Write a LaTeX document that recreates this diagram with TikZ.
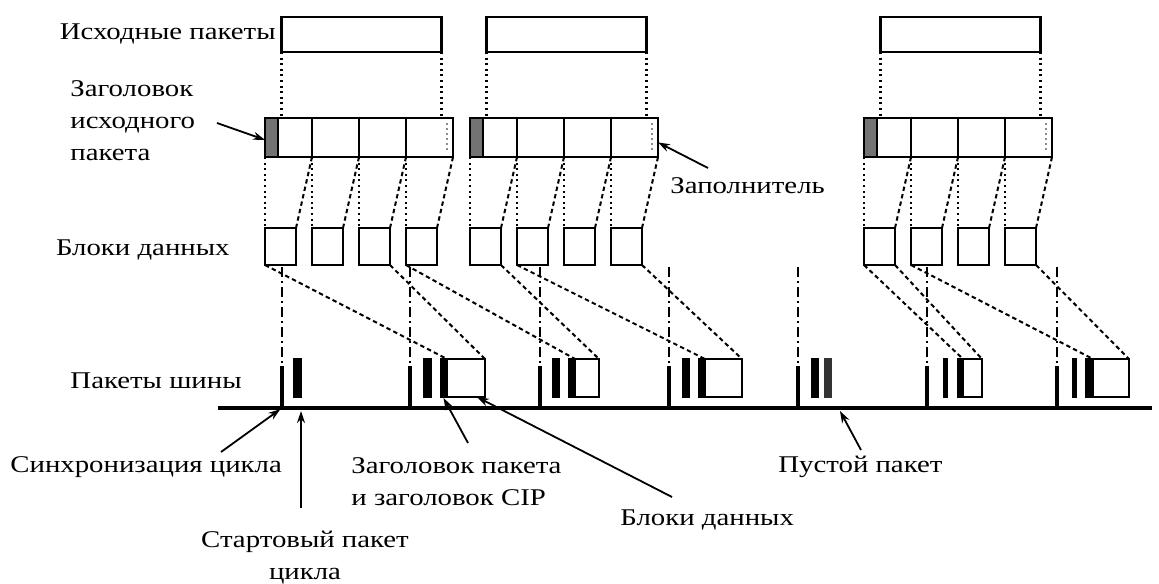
\documentclass[tikz,border=0pt]{standalone}
\usepackage{fontspec}
\setmainfont{Liberation Serif}[FakeStretch=1.2]
\usetikzlibrary{arrows.meta,positioning}
\tikzset{
  pacchetto/.style={draw,line width=1.4pt,minimum width=80pt,minimum height=17.5pt,inner sep=0pt,outer sep=0pt},
  riga/.style={draw,line width=1.3pt,minimum width=94pt,minimum height=19.5pt,inner sep=0pt,outer sep=0pt},
  testa/.style={draw,line width=1pt,fill=black!55,minimum width=6.5pt,minimum height=19.5pt,inner sep=0pt,outer sep=0pt},
  blocco/.style={draw,line width=1.2pt,minimum width=15.5pt,minimum height=18.5pt,inner sep=0pt,outer sep=0pt},
  barra/.style={fill=black,minimum height=20pt,minimum width=4pt,inner sep=0pt,outer sep=0pt},
  scatola/.style={draw,line width=1.2pt,minimum height=19pt,inner sep=0pt,outer sep=0pt},
  divisore/.style={line width=0.8pt},
  riempitivo/.style={black!45,line width=1pt,dash pattern=on 1pt off 1.5pt},
  punteggiata/.style={line width=1.1pt,dash pattern=on 1pt off 1.8pt},
  tratteggiata/.style={line width=1pt,dash pattern=on 2.2pt off 1.6pt},
  sincro/.style={line width=0.9pt,dash pattern=on 5pt off 2pt on 1pt off 2pt},
  sincrobase/.style={line width=1.6pt},
  bus/.style={line width=2pt},
  etichetta/.style={font=\fontsize{12}{16}\selectfont,inner sep=0pt},
  freccia/.style={line width=0.9pt,-{Stealth[length=6pt,width=4pt]}}
}

\begin{document}
\begin{tikzpicture}[x=0.5pt,y=-0.5pt]
\useasboundingbox (0,0) rectangle (1159,583);

% pacchetti sorgente, righe e blocchi dati
\foreach \g/\xr in {1/265,2/470,3/864}{
  \node[pacchetto] (src\g) at (\xr+96.5,34.5) {};
  \node[riga] (row\g) at (\xr+94,137.5) {};
  \foreach \i in {0,...,4} \coordinate (div\g-\i) at (\xr+47*\i,157);
  \foreach \i in {1,2,3} \draw[divisore] (div\g-\i |- row\g.north) -- (div\g-\i);
  \node[testa] (hd\g) at (\xr+6.5,137.5) {};
  \draw[riempitivo] ([xshift=-3pt,yshift=-2.5pt]row\g.north east) -- ([xshift=-3pt,yshift=2.5pt]row\g.south east);
  \draw[punteggiata] (src\g.south west) -- (src\g.south west |- row\g.north);
  \draw[punteggiata] (src\g.south east) -- (src\g.south east |- row\g.north);
  \foreach \i in {1,...,4}{
    \node[blocco] (blk\g-\i) at (\xr+47*\i-31.5,246.5) {};
    \draw[punteggiata] (blk\g-\i.north west |- row\g.south) -- (blk\g-\i.north west);
    \draw[tratteggiata] (div\g-\i) -- (blk\g-\i.north east);
  }
}

% linee di sincronizzazione del ciclo
\foreach \k/\x in {1/282,2/410,3/540,4/669,5/798,6/927,7/1057}{
  \coordinate (syt\k) at (\x,267);
  \coordinate (sy\k) at (\x,408);
  \draw[sincro] (syt\k) -- (\x,368);
  \draw[sincrobase] (\x,366) -- (sy\k);
}

% pacchetti di inizio ciclo
\foreach \k/\x/\w in {1/297.5/4.5,2/427.5/4.5,3/556/4,4/686/4,5/815/4,6/945.5/2.5,7/1074/2.5}
  \node[barra,minimum width=\w pt] (st\k) at (\x,378) {};

% pacchetti dati: intestazione + blocchi
\foreach \k/\xh/\wh/\xb/\wb in {2/443.5/3.5/466/19,3/571.5/3.5/587/12,4/701.5/3.5/723.5/18.5,6/960/3/972.5/9.5,7/1089/4/1111/18}{
  \node[barra,minimum width=\wh pt] (ph\k) at (\xh,378) {};
  \node[scatola,minimum width=\wb pt] (pb\k) at (\xb,378) {};
}
\node[barra,fill=black!80] (vuoto) at (828,378) {};

\coordinate (busL) at (218,408);
\coordinate (busR) at (1152,408);
\draw[bus] (busL) -- (busR);

% dai blocchi ai pacchetti del bus
\draw[tratteggiata] (blk1-1.south west) -- (pb2.north west);
\draw[tratteggiata] (blk1-3.south east) -- (pb2.north east);
\draw[tratteggiata] (blk1-4.south west) -- (pb3.north west);
\draw[tratteggiata] (blk2-1.south east) -- (pb3.north east);
\draw[tratteggiata] (blk2-2.south west) -- (pb4.north west);
\draw[tratteggiata] (blk2-4.south east) -- (pb4.north east);
\draw[tratteggiata] (blk3-1.south west) -- (pb6.north west);
\draw[tratteggiata] (blk3-1.south east) -- (pb6.north east);
\draw[tratteggiata] (blk3-2.south west) -- (pb7.north west);
\draw[tratteggiata] (blk3-4.south east) -- (pb7.north east);

% etichette
\node[etichetta,anchor=east] (lsrc) at (276,34) {Исходные пакеты};
\node[etichetta,anchor=west,align=left] (lhead) at (70,121) {Заголовок\\исходного\\пакета};
\node[etichetta,anchor=east] (lblk) at (230,250) {Блоки данных};
\node[etichetta,anchor=east] (lbus) at (242,381) {Пакеты шины};
\node[etichetta,anchor=west] (lfill) at (670,186) {Заполнитель};
\node[etichetta,anchor=west] (lsync) at (10,467) {Синхронизация цикла};
\node[etichetta,align=center] (lstart) at (305,558) {Стартовый пакет\\цикла};
\node[etichetta,anchor=west,align=left] (lph) at (351,482) {Заголовок пакета\\и заголовок CIP};
\node[etichetta,anchor=west] (lpb) at (620,520) {Блоки данных};
\node[etichetta,anchor=west] (lempty) at (778,467) {Пустой пакет};

\coordinate (a1) at (217,123);
\coordinate (a2) at (708,168);
\coordinate (a3) at (221,452);
\coordinate (a4) at (301,508);
\coordinate (a4t) at (301,411);
\coordinate (a5) at (468,443);
\coordinate (a6) at (672,497);
\coordinate (a7) at (861,450);
\coordinate (a7t) at (840,411);
\draw[freccia] (a1) -- (hd1.200);
\draw[freccia] (a2) -- (row2.-3);
\draw[freccia,shorten >=1pt] (a3) -- (sy1);
\draw[freccia] (a4) -- (a4t);
\draw[freccia] (a5) -- (ph2.south);
\draw[freccia] (a6) -- (pb2.-60);
\draw[freccia] (a7) -- (a7t);
\end{tikzpicture}
\end{document}
